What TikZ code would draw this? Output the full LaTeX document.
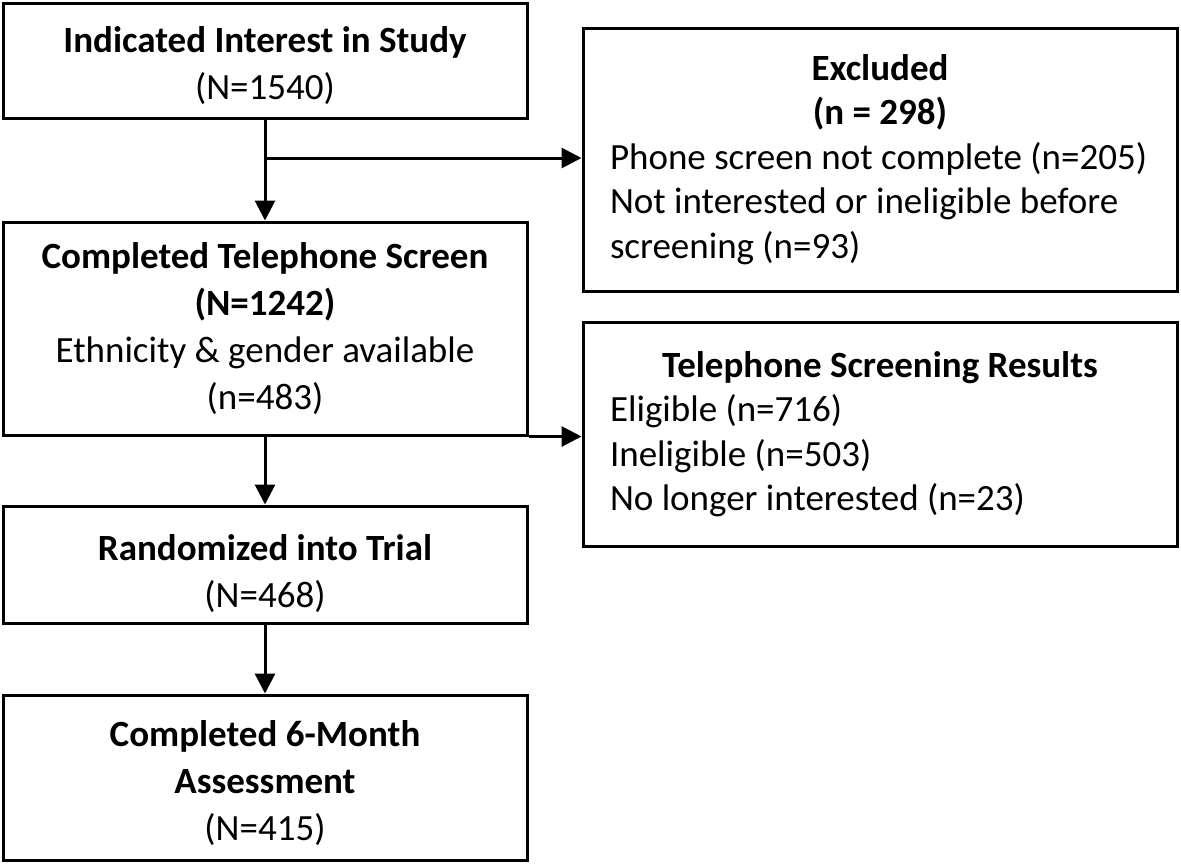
\documentclass[tikz,border=0pt]{standalone}
\usepackage{fontspec}
\setmainfont{Carlito}
\usepackage{tikz}
\usetikzlibrary{positioning,arrows.meta}

\newcommand{\sidetitle}[1]{\makebox[270pt]{\bfseries #1}}

\begin{document}
\begin{tikzpicture}[x=0.5pt,y=-0.5pt,
    every node/.style={font=\fontsize{18.5}{23.5}\selectfont},
    box/.style={draw,line width=1.5pt,inner sep=0pt,align=center,minimum width=262pt},
    sidebox/.style={draw,line width=1.5pt,inner xsep=13.5pt,inner ysep=0pt,align=flush left,
      text width=270pt,minimum width=297pt,font=\fontsize{18.5}{22.2}\selectfont},
    flow/.style={line width=1.5pt,-{Triangle[length=10pt,width=10pt]}}]
    \useasboundingbox (0,0) rectangle (1181,863);
    % main column
    \node[box,minimum height=57.5pt] (interest) at (265,60.5)
      {\rule{0pt}{18pt}\textbf{Indicated Interest in Study}\\(N=1540)};
    \node[box,minimum height=106.5pt] (phone) at (265,328.5)
      {\textbf{Completed Telephone Screen}\\\textbf{(N=1242)}\\Ethnicity \& gender available\\(n=483)};
    \node[box,minimum height=58.5pt] (random) at (265,564.5)
      {\rule{0pt}{22pt}\textbf{Randomized into Trial}\\(N=468)};
    \node[box,minimum height=82.5pt] (followup) at (265,777.5)
      {\rule{0pt}{19pt}\textbf{Completed 6-Month}\\\textbf{Assessment}\\(N=415)};
    % side boxes
    \node[sidebox,minimum height=131.5pt] (excluded) at (880,159.5)
      {\sidetitle{Excluded}\\\sidetitle{(n = 298)}\\
       Phone screen not complete (n=205)\\Not interested or ineligible before\\screening (n=93)};
    \node[sidebox,minimum height=112pt] (results) at (880,434)
      {\sidetitle{Telephone Screening Results}\\Eligible (n=716)\\
       Ineligible (n=503)\\No longer interested (n=23)};
    \coordinate (split) at (265,158);
    \draw[flow] (interest) -- (phone);
    \draw[flow] (split) -- (split -| excluded.west);
    \draw[flow] (phone.south east) -- (phone.south east -| results.west);
    \draw[flow] (phone) -- (random);
    \draw[flow] (random) -- (followup);
\end{tikzpicture}
\end{document}
